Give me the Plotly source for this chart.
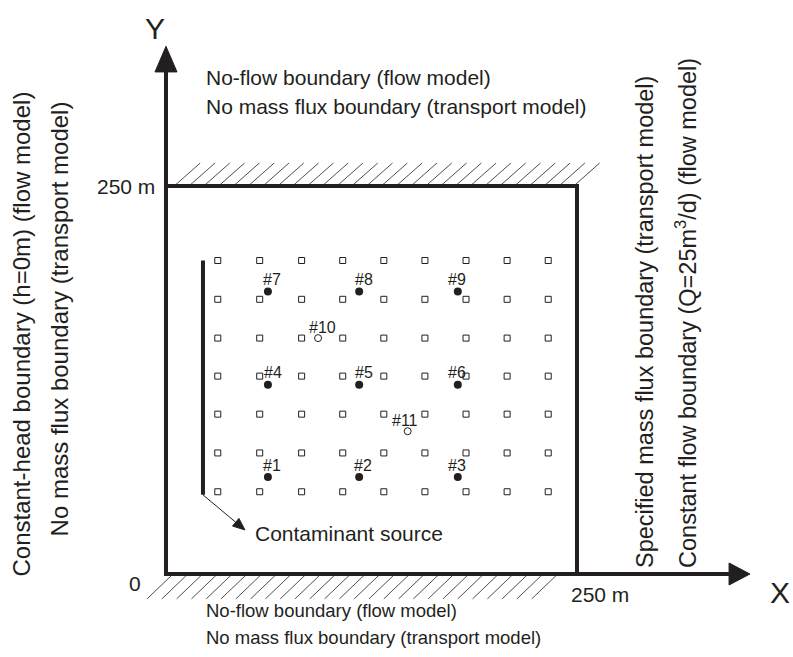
import plotly.graph_objects as go

# ---------------- data (metres) ----------------
domain_size = 250

grid_x = [31.5, 57, 82.5, 107.5, 132.5, 157.5, 182.5, 207.5, 232.5]
grid_y = [53, 78, 103, 127.5, 152, 177, 202]

well_ids = ["#1", "#2", "#3", "#4", "#5", "#6", "#7", "#8", "#9"]
well_x = [62, 117.5, 177.5, 62, 117.5, 177.5, 62, 117.5, 177.5]
well_y = [62.5, 62.5, 62.5, 122, 122, 122, 182, 182, 182]
well_dx = [4, 4, -1, 5, 5, -1, 4, 5, -1]

extra_ids = ["#10", "#11"]
extra_x = [92.5, 147]
extra_y = [152, 92]
extra_dx = [4, -3]

source_x = [22.5, 22.5]
source_y = [51, 202]
source_label_xy = [48, 28.4]   # where the pointer ends

INK = "#231F20"
FONT = "Liberation Sans, Arial, sans-serif"

# axis ranges chosen so the whole page is the plotting area
X_RANGE = [-100.97, 381.39]
Y_RANGE = [-53.48, 369.85]
W, H = 793, 657
SX = W / (X_RANGE[1] - X_RANGE[0])
SY = H / (Y_RANGE[1] - Y_RANGE[0])

fig = go.Figure()

# grid of model nodes
gx, gy = [], []
for yy in grid_y:
    for xx in grid_x:
        gx.append(xx)
        gy.append(yy)
fig.add_trace(go.Scatter(x=gx, y=gy, mode="markers",
                         marker=dict(symbol="square-open", size=6, color=INK,
                                     line=dict(width=1, color=INK)),
                         hoverinfo="skip", showlegend=False))

# observation wells
fig.add_trace(go.Scatter(x=well_x, y=well_y, mode="markers",
                         marker=dict(symbol="circle", size=8, color=INK),
                         hoverinfo="skip", showlegend=False))
fig.add_trace(go.Scatter(x=extra_x, y=extra_y, mode="markers",
                         marker=dict(symbol="circle-open", size=7, color=INK,
                                     line=dict(width=1, color=INK)),
                         hoverinfo="skip", showlegend=False))

# contaminant source line
fig.add_trace(go.Scatter(x=source_x, y=source_y, mode="lines",
                         line=dict(color=INK, width=4),
                         hoverinfo="skip", showlegend=False))

# pointer from source to its label (line + filled head, sized in pixels)
x0, y0 = source_x[0], source_y[0]
x1, y1 = source_label_xy
dxp, dyp = (x1 - x0) * SX, (y1 - y0) * SY
L = (dxp ** 2 + dyp ** 2) ** 0.5
ux, uy = dxp / L, dyp / L
hl, hw = 12, 5
bx, by = -hl * ux, -hl * uy
px_, py_ = -uy * hw, ux * hw
fig.add_trace(go.Scatter(x=[x0, x1 + bx / SX], y=[y0, y1 + by / SY], mode="lines",
                         line=dict(color=INK, width=1), hoverinfo="skip", showlegend=False))
fig.add_trace(go.Scatter(
    x=[x1, x1 + (bx + px_) / SX, x1 + (bx - px_) / SX, x1],
    y=[y1, y1 + (by + py_) / SY, y1 + (by - py_) / SY, y1],
    mode="lines", fill="toself", fillcolor=INK, line=dict(color=INK, width=1),
    hoverinfo="skip", showlegend=False))

# hatching top and bottom
hx, hy = [], []
step = 9.0
for i in range(28):
    xb = 5 + i * step
    hx += [xb, xb + 15.8, None]
    hy += [domain_size, domain_size + 14.8, None]
for i in range(27):
    xt = 4.3 + i * step
    hx += [xt, xt - 15.8, None]
    hy += [0, -16, None]
fig.add_trace(go.Scatter(x=hx, y=hy, mode="lines",
                         line=dict(color=INK, width=0.8),
                         hoverinfo="skip", showlegend=False))

# box
fig.add_shape(type="rect", x0=0, y0=0, x1=domain_size, y1=domain_size,
              line=dict(color=INK, width=4))
# axes
fig.add_shape(type="line", x0=0, y0=0, x1=0, y1=323.5, line=dict(color=INK, width=4))
fig.add_shape(type="line", x0=0, y0=0, x1=342.5, y1=0, line=dict(color=INK, width=4))
# arrow heads
fig.add_trace(go.Scatter(x=[-6.7, 6.7, 0, -6.7], y=[323.5, 323.5, 340, 323.5],
                         mode="lines", fill="toself", fillcolor=INK,
                         line=dict(color=INK, width=1), hoverinfo="skip", showlegend=False))
fig.add_trace(go.Scatter(x=[342.5, 342.5, 355.2, 342.5], y=[-7.1, 7.1, 0, -7.1],
                         mode="lines", fill="toself", fillcolor=INK,
                         line=dict(color=INK, width=1), hoverinfo="skip", showlegend=False))

ann = []
def txt(x, y, s, size=21, xa="left", ya="middle", angle=0, fam=FONT, xs=0, ys=0):
    ann.append(dict(x=x, y=y, xref="x", yref="y", text=s, showarrow=False,
                    xanchor=xa, yanchor=ya, textangle=angle, xshift=xs, yshift=ys,
                    font=dict(family=fam, size=size, color=INK)))

for i, s in enumerate(well_ids):
    txt(well_x[i], well_y[i], s, size=16, xa="center", ya="middle", xs=well_dx[i], ys=12)
for i, s in enumerate(extra_ids):
    txt(extra_x[i], extra_y[i], s, size=16, xa="center", ya="middle", xs=extra_dx[i], ys=11)

txt(53, 26.4, "Contaminant source", size=21)

# boundary texts
txt(23.1, 319.6, "No-flow boundary (flow model)")
txt(23.1, 301.5, "No mass flux boundary (transport model)")
txt(23.1, -23.2, "No-flow boundary (flow model)", size=18.5)
txt(23.1, -41.2, "No mass flux boundary (transport model)", size=18.5)
txt(-87.6, -2.6, "Constant-head boundary (h=0m) (flow model)", size=24, xa="center", ya="bottom", angle=-90)
txt(-64.5, 23.2, "No mass flux boundary (transport model)", size=24, xa="center", ya="bottom", angle=-90)
txt(291.4, 2.6, "Specified mass flux boundary (transport model)", size=23.5, xa="center", ya="bottom", angle=-90)
txt(316.3, 2.6, "Constant flow boundary (Q=25m<sup>3</sup>/d) (flow model)", size=23.5, xa="center", ya="bottom", angle=-90)

# axis labels
txt(-5.5, 250, "250 m", size=21, xa="right")
txt(-18.9, -5.8, "0", size=21, xa="center")
txt(264, -13.5, "250 m", size=21, xa="center")
txt(373.5, -11.6, "X", size=30, xa="center")
txt(-6.7, 351.8, "Y", size=30, xa="center")

fig.update_layout(
    width=W, height=H, margin=dict(l=0, r=0, t=0, b=0),
    paper_bgcolor="white", plot_bgcolor="white",
    xaxis=dict(range=X_RANGE, visible=False, fixedrange=True),
    yaxis=dict(range=Y_RANGE, visible=False, fixedrange=True),
    annotations=ann, showlegend=False,
)
fig.write_html("out.html")
